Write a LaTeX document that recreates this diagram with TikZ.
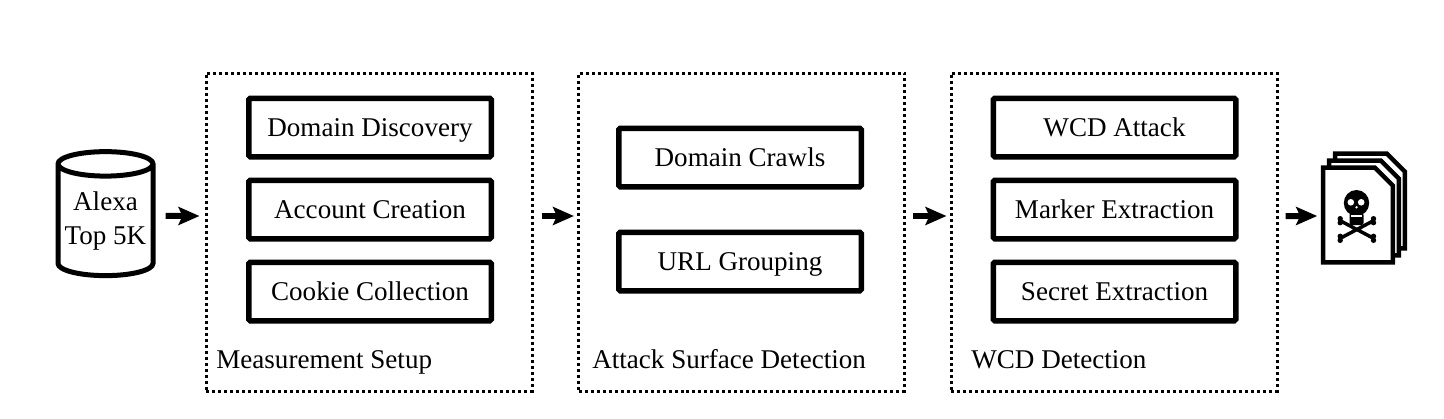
\documentclass[tikz,border=0pt]{standalone}
\usepackage{fontspec}
\setmainfont{Liberation Serif}
\usetikzlibrary{positioning,arrows.meta,shapes.geometric}

\begin{document}
\begin{tikzpicture}[node distance=0.36cm and 0.87cm, every node/.style={align=center},
    groupbox/.style={draw, line width=0.06cm, dash pattern=on 0.06cm off 0.06cm, minimum width=6.52cm, minimum height=6.36cm, inner sep=0pt},
    stepbox/.style={draw, line width=0.11cm, rounded corners=0.03cm, minimum width=4.85cm, minimum height=1.17cm, inner sep=0pt, text height=0.42cm, text depth=0.06cm, font=\fontsize{15.4}{19}\selectfont},
    grouplabel/.style={inner sep=0pt, anchor=base west, font=\fontsize{15.4}{19}\selectfont},
    flow/.style={-{Stealth[length=0.42cm, width=0.36cm, inset=0.08cm]}, line width=0.12cm},
    page/.style={draw, line width=0.09cm, fill=white, line join=miter}]
\useasboundingbox (0,0) rectangle (28.88,8.36);

% source
\node[draw, line width=0.1cm, shape=cylinder, shape border rotate=90, aspect=0.3, minimum width=1.9cm, minimum height=2.48cm, inner sep=0pt,
      font=\fontsize{15.4}{19}\selectfont] (alexa) at (2.11,3.94) {Alexa\\Top 5K};

% stages
\node[groupbox] (setup) at (7.38,3.72) {};
\node[groupbox, right=of setup] (surface) {};
\node[groupbox, right=of surface] (detection) {};

\node[stepbox] (discovery) at (7.4,5.81) {Domain Discovery};
\node[stepbox, below=of discovery] (account) {Account Creation};
\node[stepbox, below=of account] (cookie) {Cookie Collection};

\node[stepbox] (crawls) at (14.8,5.21) {Domain Crawls};
\node[stepbox, below=0.8cm of crawls] (grouping) {URL Grouping};

\node[stepbox] (attack) at (22.29,5.81) {WCD Attack};
\node[stepbox, below=of attack] (marker) {Marker Extraction};
\node[stepbox, below=of marker] (secret) {Secret Extraction};

\node[grouplabel] (setuplabel) at (4.32,1) {Measurement Setup};
\node[grouplabel] (surfacelabel) at (11.84,1) {Attack Surface Detection};
\node[grouplabel] (detectionlabel) at (19.42,1) {WCD Detection};

% leaked files
\node[minimum width=1.38cm, minimum height=1.88cm, inner sep=0pt] (leak) at (27.16,4.06) {};
\foreach \dx/\dy in {0.24/0.28,0.12/0.14,0/0} {
  \draw[page] ([shift={(\dx,\dy)}]leak.south west) -- ([shift={(\dx,\dy)}]leak.north west) -- ([shift={(\dx-0.36,\dy)}]leak.north east)
    -- ([shift={(\dx,\dy-0.36)}]leak.north east) -- ([shift={(\dx,\dy)}]leak.south east) -- cycle;
}
\begin{scope}[shift={(leak.center)}, x=0.02cm, y=-0.02cm]
  \draw[line width=0.07cm] (-17.8,5.7) -- (15.5,23.3) (15.5,5.7) -- (-17.8,23.3);
  \foreach \ex/\ey in {-17.8/5.7,15.5/5.7,-17.8/23.3,15.5/23.3} {
    \fill (\ex,\ey-2) circle (2.7) (\ex,\ey+2) circle (2.7);
  }
  \fill (-1.5,-12) ellipse (12.7 and 13);
  \fill[rounded corners=0.04cm] (-8.5,-2) rectangle (5.5,10);
  \fill[white] (-7.2,-12.7) circle (3.3) (3.2,-12.7) circle (3.3) (-1.5,-7.7) circle (1.3);
  \fill[white] (-7,0) rectangle (4,2);
\end{scope}

% flow
\draw[flow] ([xshift=0.2cm, yshift=0.1cm]alexa.east) -- ([xshift=-0.1cm, yshift=0.32cm]setup.west);
\draw[flow] ([xshift=0.16cm, yshift=0.32cm]setup.east) -- ([xshift=-0.06cm, yshift=0.32cm]surface.west);
\draw[flow] ([xshift=0.14cm, yshift=0.32cm]surface.east) -- ([xshift=-0.06cm, yshift=0.32cm]detection.west);
\draw[flow] ([xshift=0.14cm, yshift=0.32cm]detection.east) -- ([xshift=-0.12cm, yshift=-0.02cm]leak.west);
\end{tikzpicture}
\end{document}
